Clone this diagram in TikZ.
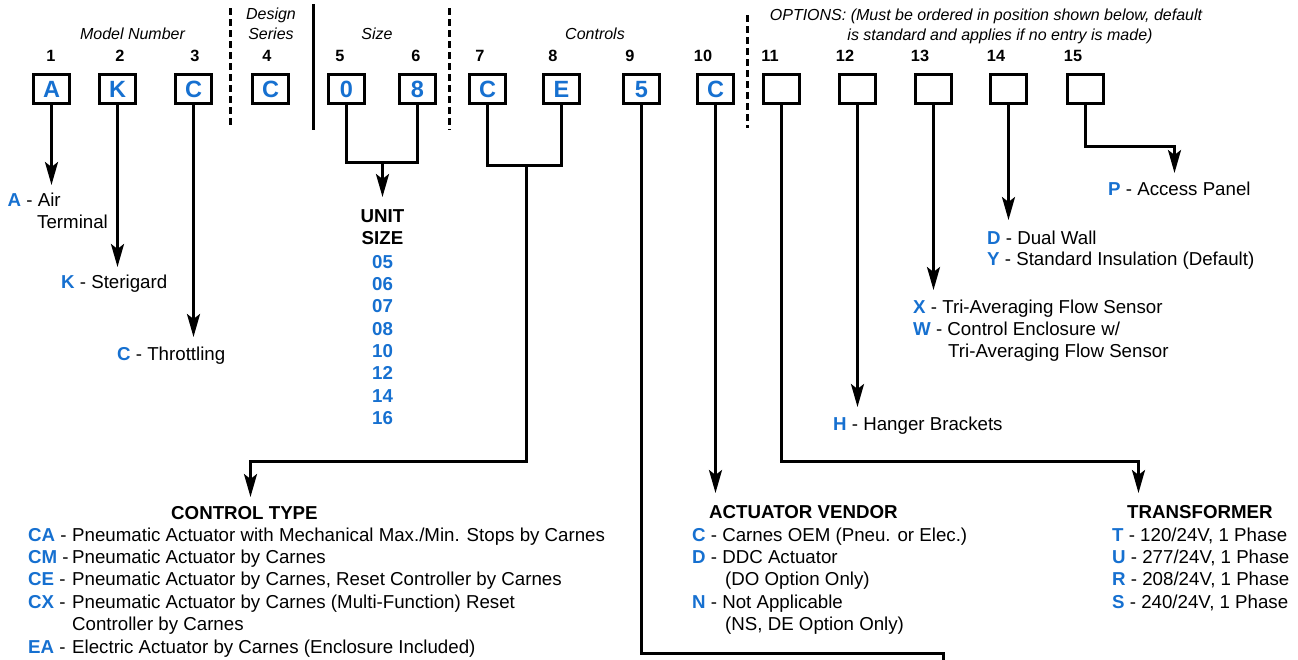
\documentclass[tikz,border=0pt]{standalone}
\usepackage{fontspec}
\setmainfont{Liberation Sans}
\usetikzlibrary{arrows.meta}
\definecolor{codeblue}{RGB}{22,112,208}
\newcommand\code[1]{{\bfseries\color{codeblue}#1}}
\newcommand\ctline[2]{\makebox[44pt][l]{\code{#1} -}#2}

\tikzset{
  txt/.style={anchor=base west, inner sep=0pt, font=\fontsize{18.7}{22}\selectfont},
  ctxt/.style={anchor=base, inner sep=0pt, font=\fontsize{18.7}{22}\selectfont},
  headbold/.style={anchor=base west, inner sep=0pt, font=\fontsize{18.7}{22}\selectfont\bfseries},
  heading/.style={anchor=base, inner sep=0pt, font=\fontsize{16}{20}\selectfont\itshape},
  posnum/.style={anchor=base, inner sep=0pt, font=\fontsize{16.3}{18}\selectfont\bfseries},
  digitbox/.style={draw, line width=3.3pt, minimum width=35.7pt, minimum height=28.7pt,
    inner sep=0pt, text height=16.5pt, text depth=0pt,
    font=\fontsize{23.5}{24}\selectfont\bfseries, text=codeblue},
  link/.style={line width=2.8pt},
  arr/.style={line width=2.8pt, -{Stealth[length=23pt,width=13pt,inset=5pt]}},
  divdash/.style={line width=3pt, dash pattern=on 7pt off 4pt},
  divsolid/.style={line width=3pt},
}

\begin{document}
\begin{tikzpicture}[x=1pt, y=-1pt]
\useasboundingbox (0,0) rectangle (1298,659);

% ---- section headings ----
\node[heading] (hmodel) at (132.5,39.7) {Model Number};
\node[heading] (hdes1) at (271,19.7) {Design};
\node[heading] (hdes2) at (271,39.7) {Series};
\node[heading] (hsize) at (377,39.7) {Size};
\node[heading] (hctrl) at (595,39.7) {Controls};
\node[heading] (hopt1) at (986,20) {OPTIONS: (Must be ordered in position shown below, default};
\node[heading] (hopt2) at (1000,40) {is standard and applies if no entry is made)};

% ---- section dividers ----
\draw[divdash] (230.5,8) -- (230.5,128);
\draw[divsolid] (313.5,4) -- (313.5,130);
\draw[divdash] (449.5,8) -- (449.5,130);
\draw[divdash] (747.5,15) -- (747.5,128);

% ---- position numbers ----
\foreach \n/\x in {1/51,2/120,3/195,4/267,5/340,6/416,7/480,8/553,9/630,
                   10/703,11/770,12/845,13/920,14/996,15/1073}
  \node[posnum] (p\n) at (\x,61.8) {\n};

% ---- code boxes ----
\node[digitbox] (b1)  at (51.5,89)   {A};
\node[digitbox] (b2)  at (117.5,89)  {K};
\node[digitbox] (b3)  at (193.5,89)  {C};
\node[digitbox] (b4)  at (270.5,89)  {C};
\node[digitbox] (b5)  at (346.5,89)  {0};
\node[digitbox] (b6)  at (417.5,89)  {8};
\node[digitbox] (b7)  at (487.5,89)  {C};
\node[digitbox] (b8)  at (561.5,89)  {E};
\node[digitbox] (b9)  at (641.5,89)  {5};
\node[digitbox] (b10) at (715.5,89)  {C};
\node[digitbox] (b11) at (781.5,89)  {};
\node[digitbox] (b12) at (857.5,89)  {};
\node[digitbox] (b13) at (933.5,89)  {};
\node[digitbox] (b14) at (1008.5,89) {};
\node[digitbox] (b15) at (1085.5,89) {};

% ---- connector end points ----
\coordinate (t1) at (51.5,185);
\coordinate (t2) at (117.5,267);
\coordinate (t3) at (193.5,337);
\coordinate (jS) at (382.5,162.5);
\coordinate (tS) at (382.5,197);
\coordinate (jC) at (526.5,165.5);
\coordinate (cC) at (526.5,461.5);
\coordinate (tC) at (250.5,497);
\coordinate (c9) at (943.5,653.5);
\coordinate (e9) at (943.5,661);
\coordinate (t10) at (715.5,493);
\coordinate (c11) at (1138.5,461.5);
\coordinate (t11) at (1138.5,493);
\coordinate (t12) at (857.5,407);
\coordinate (t13) at (933.5,290);
\coordinate (t14) at (1008.5,220);
\coordinate (c15) at (1174.5,146.5);
\coordinate (t15) at (1174.5,173);

% ---- connectors ----
\draw[arr] (b1.south) -- (t1);
\draw[arr] (b2.south) -- (t2);
\draw[arr] (b3.south) -- (t3);
\draw[link] (b5.south) |- (jS) -| (b6.south);
\draw[arr] (jS) -- (tS);
\draw[link] (b7.south) |- (jC) -| (b8.south);
\draw[arr] (jC) -- (cC) -| (tC);
\draw[link] (b9.south) |- (c9) -- (e9);
\draw[arr] (b10.south) -- (t10);
\draw[arr] (b11.south) |- (c11) -- (t11);
\draw[arr] (b12.south) -- (t12);
\draw[arr] (b13.south) -- (t13);
\draw[arr] (b14.south) -- (t14);
\draw[arr] (b15.south) |- (c15) -- (t15);

% ---- model number legends ----
\node[txt] (lA) at (7.5,206.5) {\code{A} - Air};
\node[txt] (lA2) at (37,228.5) {Terminal};
\node[txt] (lK) at (61,288.5) {\code{K} - Sterigard};
\node[txt] (lC) at (117,360.5) {\code{C} - Throttling};

% ---- unit size list ----
\node[ctxt, font=\fontsize{18.7}{22}\selectfont\bfseries] (us1) at (382.5,222.5) {UNIT};
\node[ctxt, font=\fontsize{18.7}{22}\selectfont\bfseries] (us2) at (382.5,244.5) {SIZE};
\foreach \s [count=\i] in {05,06,07,08,10,12,14,16}
  \node[ctxt, font=\fontsize{18.7}{22}\selectfont\bfseries, text=codeblue]
    (sz\i) at (382.5,{245.9+22.3*\i}) {\s};

% ---- option legends ----
\node[txt] (lP) at (1108,195.5) {\code{P} - Access Panel};
\node[txt] (lD) at (987,244.5) {\code{D} - Dual Wall};
\node[txt] (lY) at (987,265.5) {\code{Y} - Standard Insulation (Default)};
\node[txt] (lX) at (913,313.5) {\code{X} - Tri-Averaging Flow Sensor};
\node[txt] (lW) at (913,335.5) {\code{W} - Control Enclosure w/};
\node[txt] (lW2) at (948,357.5) {Tri-Averaging Flow Sensor};
\node[txt] (lH) at (833,430.5) {\code{H} - Hanger Brackets};

% ---- control type ----
\node[headbold] (hct) at (171,519.5) {CONTROL TYPE};
\node[txt] (ca) at (28,541.5) {\ctline{CA}{Pneumatic Actuator with Mechanical Max./Min. Stops by Carnes}};
\node[txt] (cm) at (28,563.5) {\ctline{CM}{Pneumatic Actuator by Carnes}};
\node[txt] (ce) at (28,585.5) {\ctline{CE}{Pneumatic Actuator by Carnes, Reset Controller by Carnes}};
\node[txt] (cx) at (28,608) {\ctline{CX}{Pneumatic Actuator by Carnes (Multi-Function) Reset}};
\node[txt] (cx2) at (72,630) {Controller by Carnes};
\node[txt] (ea) at (28,653) {\ctline{EA}{Electric Actuator by Carnes (Enclosure Included)}};

% ---- actuator vendor ----
\node[headbold] (hav) at (709,518.5) {ACTUATOR VENDOR};
\node[txt] (avc) at (692,541.5) {\code{C} - Carnes OEM (Pneu. or Elec.)};
\node[txt] (avd) at (692,563.5) {\code{D} - DDC Actuator};
\node[txt] (avd2) at (725,585.5) {(DO Option Only)};
\node[txt] (avn) at (692,608) {\code{N} - Not Applicable};
\node[txt] (avn2) at (725,630) {(NS, DE Option Only)};

% ---- transformer ----
\node[headbold] (htr) at (1127,518.5) {TRANSFORMER};
\node[txt] (trt) at (1112,541.5) {\code{T} - 120/24V, 1 Phase};
\node[txt] (tru) at (1112,563.5) {\code{U} - 277/24V, 1 Phase};
\node[txt] (trr) at (1112,585.5) {\code{R} - 208/24V, 1 Phase};
\node[txt] (trs) at (1112,608) {\code{S} - 240/24V, 1 Phase};
\end{tikzpicture}
\end{document}
